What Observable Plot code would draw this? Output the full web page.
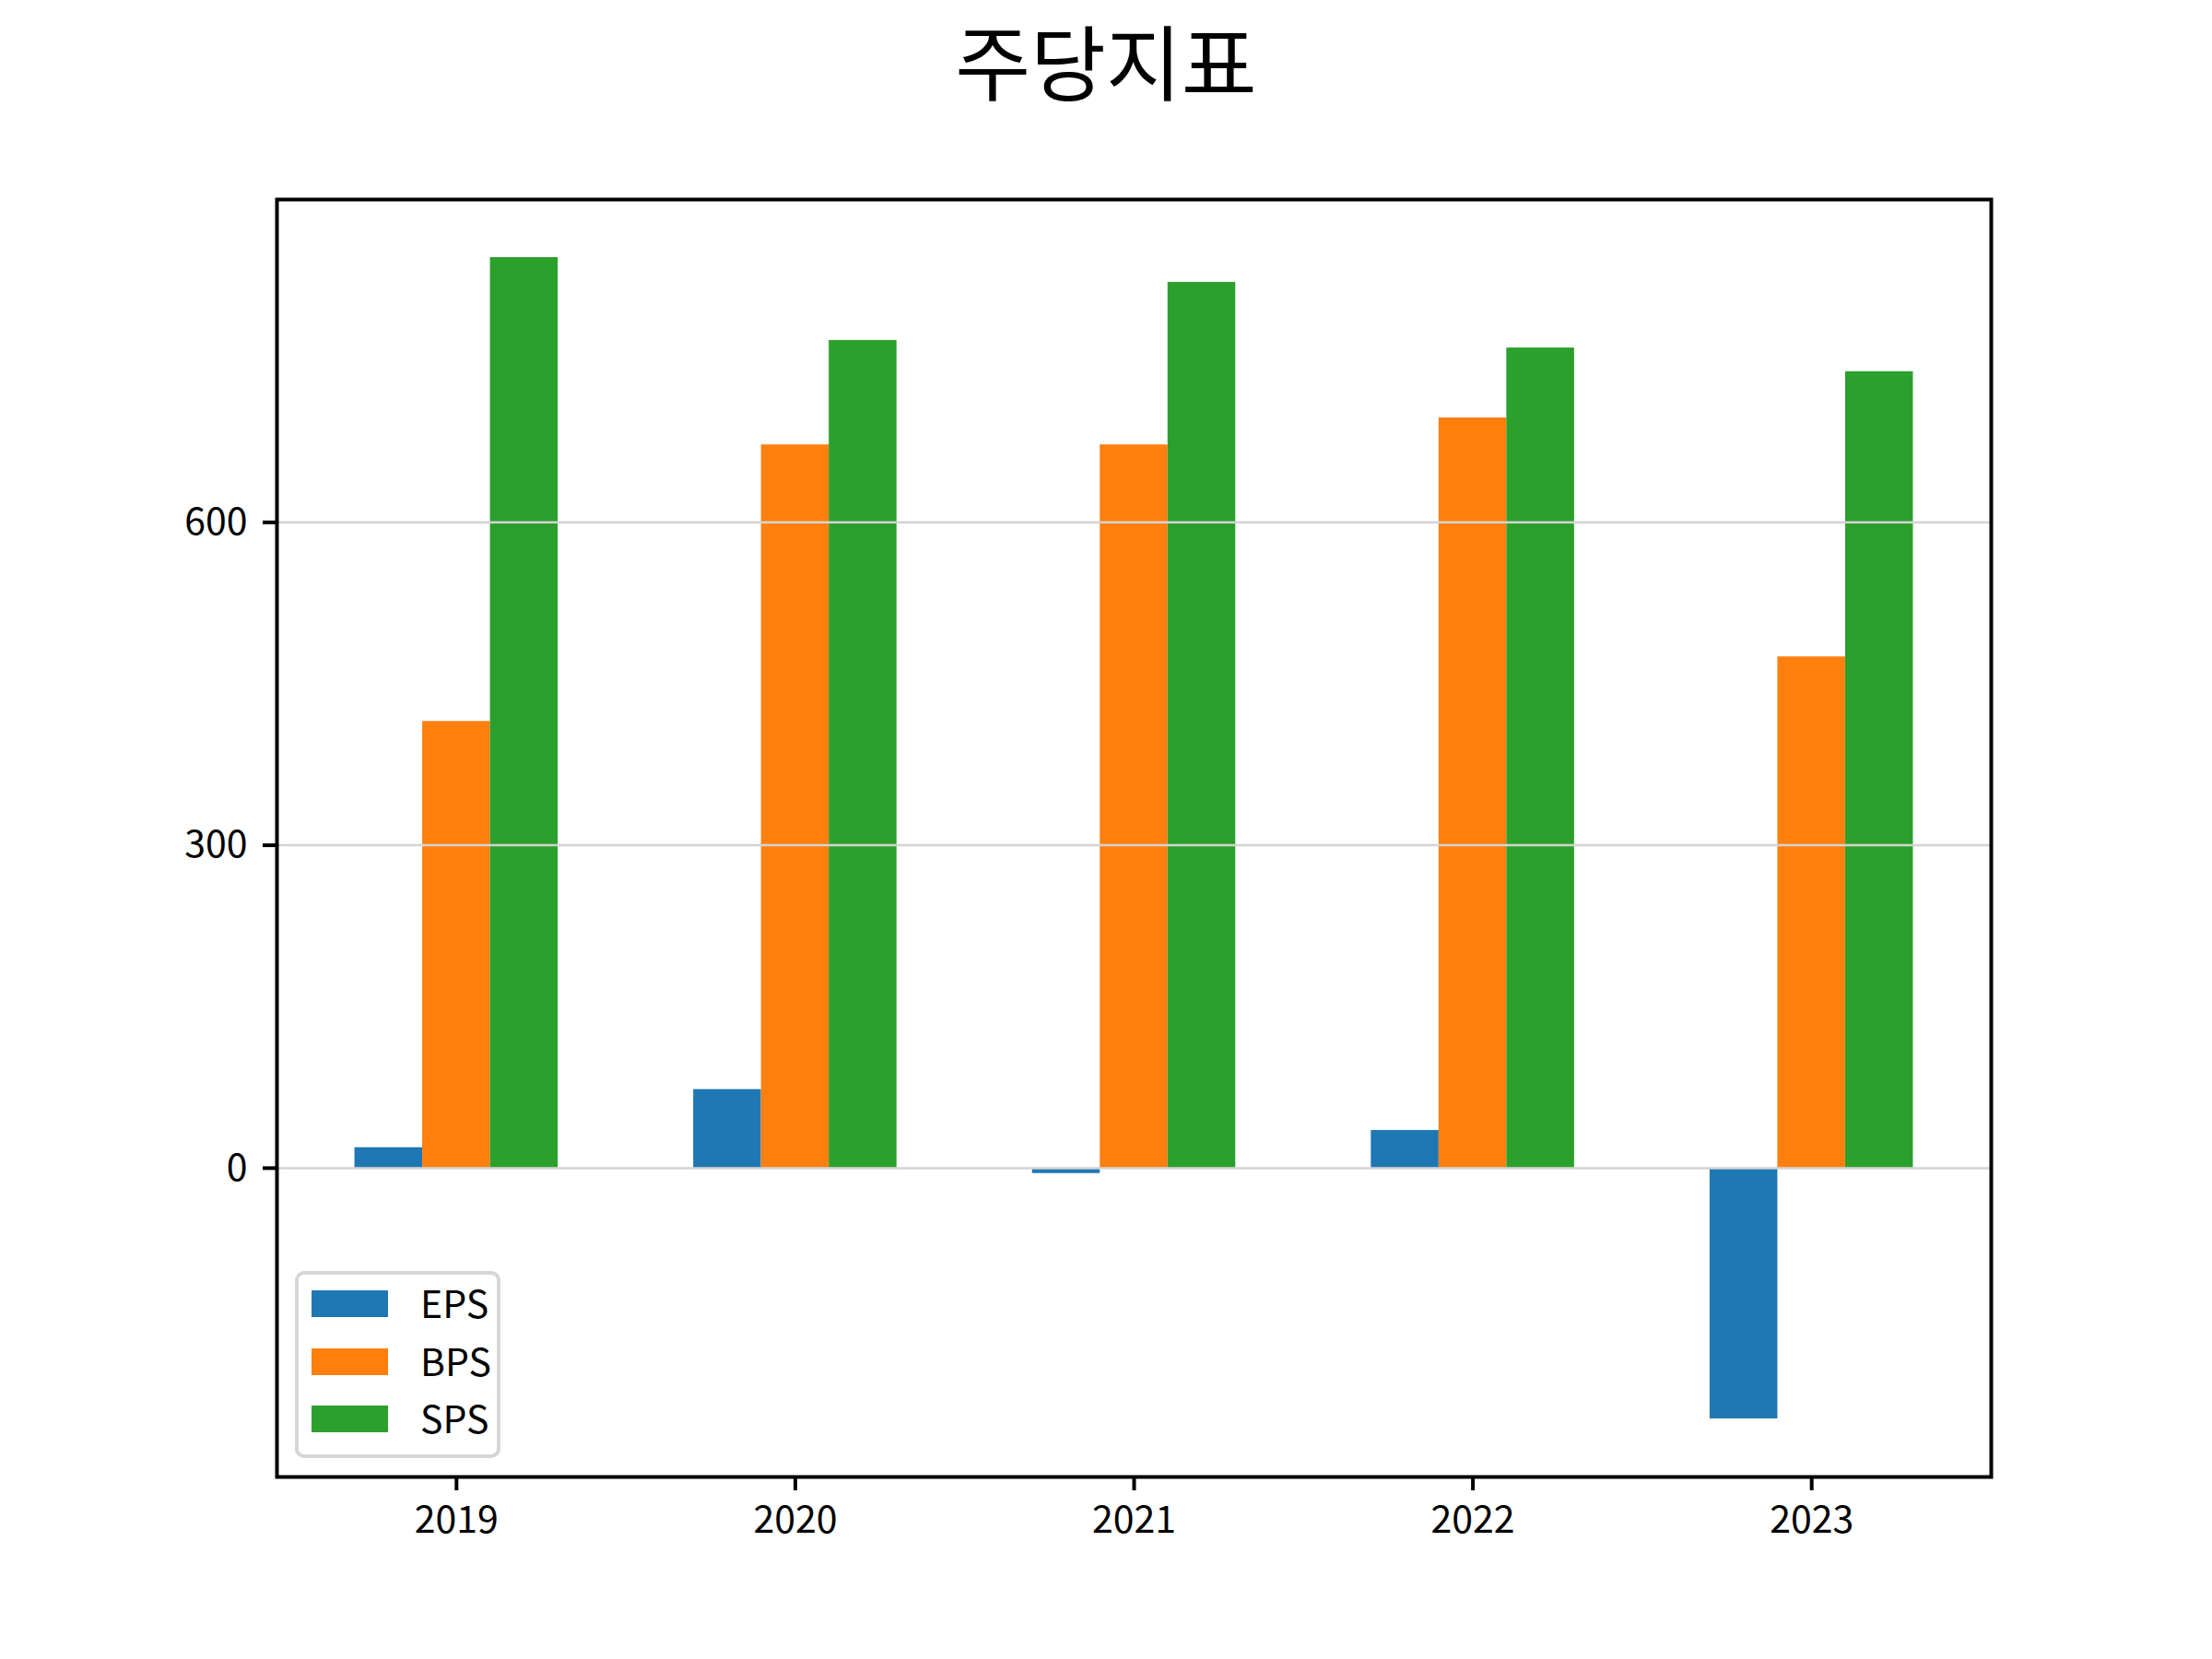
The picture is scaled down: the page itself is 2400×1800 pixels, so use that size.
<!DOCTYPE html>
<html>
<head>
<meta charset="utf-8">
<script src="https://cdn.jsdelivr.net/npm/d3@7"></script>
<script src="https://cdn.jsdelivr.net/npm/@observablehq/plot@0.6"></script>
<style>
  html, body { margin: 0; padding: 0; background: #fff; }
  #wrap { position: relative; width: 2400px; height: 1800px; font-family: "Noto Sans CJK KR", "Noto Sans", sans-serif; }
  #title { position: absolute; left: 0; top: 6px; width: 2400px; text-align: center; font-size: 89px; line-height: 116px; color: #000; }
  #legend { position: absolute; left: 320px; top: 1379px; width: 223px; height: 203px; box-sizing: border-box;
            border: 4px solid #d6d6d6; border-radius: 10px; background: rgba(255,255,255,0.8); }
  .item { position: absolute; left: 14px; height: 30px; }
  .sw { position: absolute; left: 0; top: 0; width: 83px; height: 29px; }
  .lab { position: absolute; left: 118px; top: -18px; font-size: 41px; line-height: 60px; white-space: nowrap; color: #000; }
</style>
</head>
<body>
<div id="wrap">
  <div id="title"></div>
  <div id="chart"></div>
  <div id="legend"></div>
</div>
<script>
const titleText = "주당지표";
const years = [2019, 2020, 2021, 2022, 2023];
const seriesNames = ["EPS", "BPS", "SPS"];
const seriesColors = ["#1f77b4", "#ff7f0e", "#2ca02c"];
const EPS = [19, 73, -5, 35, -233];
const BPS = [415, 672, 672, 697, 475];
const SPS = [846, 769, 823, 762, 740];
const yTicks = [0, 300, 600];

const seriesValues = [EPS, BPS, SPS];
const barWidth = 0.2;
const rows = [];
seriesNames.forEach((name, si) => {
  years.forEach((yr, i) => {
    const off = (si - 1) * barWidth;
    rows.push({series: name, year: yr, value: seriesValues[si][i],
               x1: yr + off - barWidth / 2, x2: yr + off + barWidth / 2});
  });
});

// matplotlib-like autoscale with 5% margins
const allV = rows.map(d => d.value).concat([0]);
const vmin = d3.min(allV), vmax = d3.max(allV);
const ypad = (vmax - vmin) * 0.05;
const xmin = d3.min(rows, d => d.x1), xmax = d3.max(rows, d => d.x2);
const xpad = (xmax - xmin) * 0.05;

document.getElementById("title").textContent = titleText;

const chart = Plot.plot({
  width: 2400,
  height: 1800,
  marginLeft: 300,
  marginRight: 240,
  marginTop: 216,
  marginBottom: 198,
  style: {fontFamily: "'Noto Sans CJK KR', 'Noto Sans', sans-serif", fontSize: "41px", background: "white", color: "black"},
  x: {type: "linear", domain: [xmin - xpad, xmax + xpad]},
  y: {domain: [vmin - ypad, vmax + ypad]},
  color: {domain: seriesNames, range: seriesColors},
  marks: [
    Plot.rect(rows, {x1: "x1", x2: "x2", y1: 0, y2: "value", fill: "series"}),
    Plot.gridY(yTicks, {stroke: "#d3d3d3", strokeOpacity: 1, strokeWidth: 2.5}),
    Plot.axisY(yTicks, {tickSize: 15, tickPadding: 17, strokeWidth: 4, fontSize: 41, tickFormat: d => String(d), label: null}),
    Plot.axisX(years, {tickSize: 15, tickPadding: 16, strokeWidth: 4, fontSize: 41, tickFormat: d => String(d), label: null}),
    Plot.frame({stroke: "black", strokeWidth: 4})
  ]
});
document.getElementById("chart").appendChild(chart);

const legend = document.getElementById("legend");
seriesNames.forEach((name, i) => {
  const item = document.createElement("div");
  item.className = "item";
  item.style.top = (17 + i * 62.5) + "px";
  const sw = document.createElement("div");
  sw.className = "sw";
  sw.style.background = seriesColors[i];
  const lab = document.createElement("div");
  lab.className = "lab";
  lab.textContent = name;
  item.appendChild(sw);
  item.appendChild(lab);
  legend.appendChild(item);
});
</script>
</body>
</html>
